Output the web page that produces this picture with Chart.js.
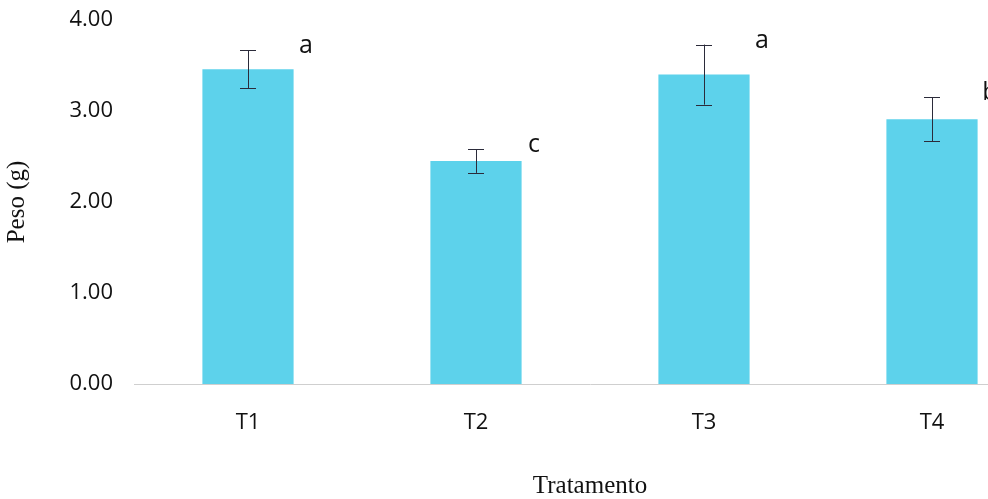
<!DOCTYPE html>
<html>
<head>
<meta charset="utf-8">
<script src="https://cdn.jsdelivr.net/npm/chart.js@4"></script>
<style>
  html, body { margin: 0; padding: 0; background: #fff; overflow: hidden; }
  #wrap { position: relative; width: 1070px; height: 499px; }
</style>
</head>
<body>
<div id="wrap"><canvas id="c"></canvas></div>
<script>
// Treatments and mean fresh weight (g) with standard deviation
const categories = ['T1', 'T2', 'T3', 'T4'];
const meanWeight = [3.46, 2.45, 3.40, 2.91];
const stdDev = [0.21, 0.13, 0.33, 0.24];
// Tukey grouping letters
const groupLetters = ['a', 'c', 'a', 'b'];
// Y axis ticks
const yTickValues = [0, 1, 2, 3, 4];

const sansFont = "'Open Sans', 'Noto Sans', sans-serif";
const serifFont = "'Liberation Serif', 'DejaVu Serif', serif";

// Error bars and significance letters drawn over each bar
const errorBarPlugin = {
  id: 'errorBars',
  afterDatasetsDraw(chart) {
    const ctx = chart.ctx;
    const xs = chart.scales.x;
    const ys = chart.scales.y;
    ctx.save();
    meanWeight.forEach((m, i) => {
      const x = xs.getPixelForValue(i);
      const yHi = ys.getPixelForValue(m + stdDev[i]);
      const yLo = ys.getPixelForValue(m - stdDev[i]);
      ctx.strokeStyle = '#2b2b3a';
      ctx.lineWidth = 1;
      ctx.beginPath();
      ctx.moveTo(x + 0.5, yHi);
      ctx.lineTo(x + 0.5, yLo);
      ctx.moveTo(x - 8, Math.round(yHi) + 0.5);
      ctx.lineTo(x + 8, Math.round(yHi) + 0.5);
      ctx.moveTo(x - 8, Math.round(yLo) + 0.5);
      ctx.lineTo(x + 8, Math.round(yLo) + 0.5);
      ctx.stroke();

      ctx.fillStyle = '#111';
      ctx.font = '25px ' + sansFont;
      ctx.textAlign = 'center';
      ctx.textBaseline = 'alphabetic';
      ctx.fillText(groupLetters[i], x + 58, yHi + 3);
    });
    ctx.restore();
  }
};

new Chart(document.getElementById('c'), {
  type: 'bar',
  data: {
    labels: categories,
    datasets: [{
      data: meanWeight,
      backgroundColor: '#5dd2eb',
      borderWidth: 0,
      categoryPercentage: 1,
      barPercentage: 0.4
    }]
  },
  options: {
    responsive: true,
    maintainAspectRatio: false,
    animation: false,
    devicePixelRatio: 1,
    layout: { padding: { top: 20, right: 24, left: 0, bottom: 0 } },
    plugins: {
      legend: { display: false },
      tooltip: { enabled: false }
    },
    scales: {
      x: {
        grid: { display: false, drawTicks: false },
        border: { display: true, color: '#cfcfcf', width: 1 },
        ticks: { font: { family: sansFont, size: 22 }, color: '#111', padding: 26 },
        title: {
          display: true,
          text: 'Tratamento',
          font: { family: serifFont, size: 25, lineHeight: 1.0 },
          color: '#111',
          padding: { top: 0, bottom: 0 }
        },
        afterFit: (s) => { s.height = 115; }
      },
      y: {
        min: 0,
        max: 4,
        afterBuildTicks: (s) => { s.ticks = yTickValues.map(v => ({ value: v })); },
        grid: { display: false, drawTicks: false },
        border: { display: false },
        ticks: {
          font: { family: sansFont, size: 22 },
          color: '#111',
          padding: 21,
          callback: (v) => Number(v).toFixed(2)
        },
        title: {
          display: true,
          text: 'Peso (g)',
          font: { family: serifFont, size: 25 },
          color: '#111',
          padding: { top: 2, bottom: 0 }
        },
        afterFit: (s) => {
          s.width = 134;
          s.paddingTop = 8;
          s.paddingBottom = 0;
        }
      }
    }
  },
  plugins: [errorBarPlugin]
});
</script>
</body>
</html>
